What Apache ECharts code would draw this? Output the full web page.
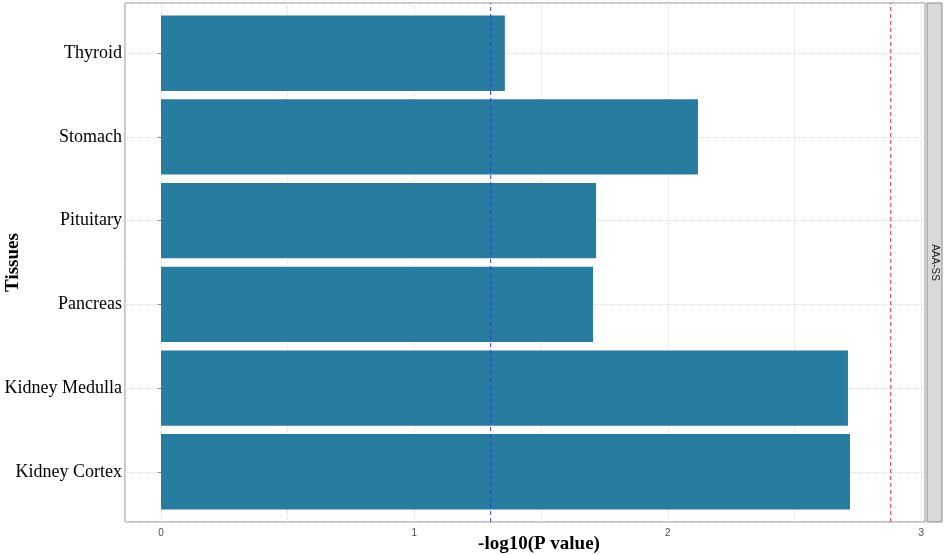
<!DOCTYPE html>
<html>
<head>
<meta charset="utf-8">
<script src="https://cdn.jsdelivr.net/npm/echarts@6/dist/echarts.min.js"></script>
<style>
  html, body { margin: 0; padding: 0; background: #fff; }
  #chart { width: 944px; height: 555px; }
</style>
</head>
<body>
<div id="chart"></div>
<script>
// tissues, top to bottom
const tissues = ['Thyroid', 'Stomach', 'Pituitary', 'Pancreas', 'Kidney Medulla', 'Kidney Cortex']
// -log10(P value)
const logP = [1.357, 2.119, 1.717, 1.705, 2.711, 2.719]
// threshold lines
const nominalCut = 1.301
const strictCut = 2.88
const facetLabel = 'AAA-SS'

// panel geometry (ggplot-like, discrete axis padded by 0.6 units)
const panel = { left: 125, top: 3, width: 800, height: 519 }
const unit = panel.height / (tissues.length + 0.2)
const xMin = -0.142
const xMax = 3.015
const yMin = -0.6
const yMax = tissues.length - 0.4

const chart = echarts.init(document.getElementById('chart'))

const gridLine = { show: true, lineStyle: { color: '#dcdcdc', type: 'dotted', width: 1 } }

// vertical dashed threshold line over the whole panel
const cutLine = (value, color) => ({
  type: 'line', xAxisIndex: 0, yAxisIndex: 0, z: 10,
  data: [[value, yMin], [value, yMax]],
  symbol: 'none', silent: true,
  color: color,
  lineStyle: { color: color, type: [4, 3], width: 1, opacity: 1 }
})

const option = {
  backgroundColor: '#fff',
  animation: false,
  grid: [
    {
      // background panel with grid lines and border
      left: panel.left, top: panel.top, width: panel.width, height: panel.height,
      outerBoundsMode: 'none', containLabel: false,
      show: true, backgroundColor: '#fff', borderColor: '#8a8a8a', borderWidth: 1
    },
    {
      // bars
      left: panel.left, top: panel.top + 0.1 * unit, width: panel.width, height: tissues.length * unit,
      outerBoundsMode: 'none', containLabel: false
    }
  ],
  xAxis: [
    {
      gridIndex: 0, type: 'value', min: xMin, max: xMax,
      axisLine: { show: false },
      axisTick: { show: false },
      splitLine: gridLine,
      showMinLabel: false, showMaxLabel: false,
      axisLabel: {
        margin: 6,
        fontSize: 10, color: '#4d4d4d', fontFamily: 'Liberation Sans',
        formatter: v => (Math.abs(v - Math.round(v)) < 1e-9 ? String(Math.round(v)) : '')
      },
      name: '-log10(P value)', nameLocation: 'middle', nameGap: 13, nameMoveOverlap: false,
      nameTextStyle: { fontFamily: 'Liberation Serif', fontWeight: 'bold', fontSize: 19, color: '#000', padding: [0, 0, 0, 28] }
    },
    {
      gridIndex: 1, type: 'value', min: xMin, max: xMax, show: false
    }
  ],
  yAxis: [
    {
      gridIndex: 0, type: 'value', min: yMin, max: yMax,
      axisLine: { show: false }, axisTick: { show: false }, axisLabel: { show: false },
      splitLine: gridLine
    },
    {
      gridIndex: 1, type: 'category', inverse: true, data: tissues,
      axisLine: { show: false },
      axisTick: { show: true, alignWithLabel: true, length: 3, lineStyle: { color: '#8a8a8a' } },
      axisLabel: { margin: 3, fontFamily: 'Liberation Serif', fontSize: 18, color: '#000' },
      splitLine: { show: false },
      name: 'Tissues', nameLocation: 'middle', nameGap: 102, nameMoveOverlap: false,
      nameTextStyle: { fontFamily: 'Liberation Serif', fontWeight: 'bold', fontSize: 19, color: '#000' }
    }
  ],
  series: [
    {
      type: 'bar', xAxisIndex: 1, yAxisIndex: 1,
      data: logP, barWidth: '90%',
      itemStyle: { color: '#287ca0' }
    },
    cutLine(nominalCut, '#2b3fcf'),
    cutLine(strictCut, '#d9272e')
  ],
  graphic: [
    {
      type: 'rect', z: 5,
      shape: { x: panel.left + panel.width + 2, y: panel.top, width: 15, height: panel.height },
      style: { fill: '#d9d9d9', stroke: '#8a8a8a', lineWidth: 1 }
    },
    {
      type: 'text', z: 6,
      x: panel.left + panel.width + 9.5, y: panel.top + panel.height / 2,
      rotation: -Math.PI / 2,
      style: {
        text: facetLabel, fontSize: 10, fontFamily: 'Liberation Sans', fill: '#1a1a1a',
        align: 'center', verticalAlign: 'middle'
      }
    }
  ]
}

chart.setOption(option)
window.addEventListener('resize', () => chart.resize())
</script>
</body>
</html>
